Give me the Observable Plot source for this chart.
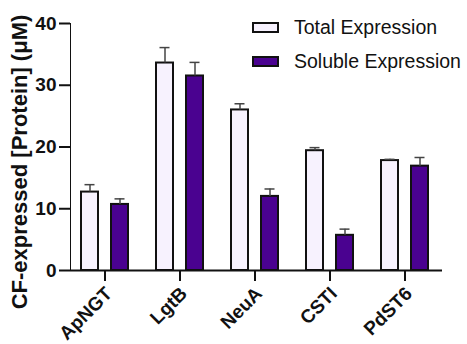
<!DOCTYPE html>
<html>
<head>
<meta charset="utf-8">
<script src="https://cdn.jsdelivr.net/npm/d3@7"></script>
<script src="https://cdn.jsdelivr.net/npm/@observablehq/plot@0.6"></script>
<style>
  body { margin: 0; background: #fff; }
  #wrap { position: relative; width: 467px; height: 344px; font-family: "Liberation Sans", Arial, sans-serif; }
  .lg { position: absolute; display: flex; align-items: center; font-size: 19.5px; color: #111; }
  .sw { width: 27px; height: 11px; border: 2px solid #111; box-sizing: border-box; margin-right: 15px; }
</style>
</head>
<body>
<div id="wrap"></div>
<script>
const categories = ["ApNGT", "LgtB", "NeuA", "CSTI", "PdST6"];
const totalMean = [12.7, 33.6, 26.0, 19.4, 17.8];
const totalErr = [1.2, 2.5, 1.0, 0.5, 0.2];
const solubleMean = [10.7, 31.5, 12.0, 5.7, 16.9];
const solubleErr = [0.9, 2.2, 1.2, 1.0, 1.4];
const seriesNames = ["Total Expression", "Soluble Expression"];
const seriesColors = ["#F7F2FE", "#4A0290"];
const yTicks = [0, 10, 20, 30, 40];
const yLabel = "CF-expressed [Protein] (μM)";

const total = categories.map((c, i) => ({cat: c, value: totalMean[i], hi: totalMean[i] + totalErr[i]}));
const soluble = categories.map((c, i) => ({cat: c, value: solubleMean[i], hi: solubleMean[i] + solubleErr[i]}));

const ink = "#111";
const errInk = "#444";

const chart = Plot.plot({
  width: 467,
  height: 344,
  marginTop: 23,
  marginBottom: 74,
  marginLeft: 70,
  marginRight: 25,
  style: {fontFamily: "'Liberation Sans', Arial, sans-serif", fontSize: "19px", fontWeight: "bold", color: ink, background: "white"},
  x: {domain: categories, range: [67, 442], paddingInner: 0.347, paddingOuter: 0.1735, label: null},
  y: {domain: [0, 40], ticks: yTicks, tickSize: 11, tickPadding: 3, label: null, line: true},
  marks: [
    Plot.barY(total, {x: "cat", y: "value", fill: seriesColors[0], stroke: ink, strokeWidth: 2, insetLeft: 1, insetRight: 31}),
    Plot.barY(soluble, {x: "cat", y: "value", fill: seriesColors[1], stroke: ink, strokeWidth: 2, insetLeft: 31, insetRight: 1}),
    Plot.ruleX(total, {x: "cat", y1: "value", y2: "hi", dx: -15, stroke: errInk, strokeWidth: 1.5}),
    Plot.tickY(total, {x: "cat", y: "hi", dx: -15, insetLeft: 19.5, insetRight: 19.5, stroke: errInk, strokeWidth: 1.5}),
    Plot.ruleX(soluble, {x: "cat", y1: "value", y2: "hi", dx: 15, stroke: errInk, strokeWidth: 1.5}),
    Plot.tickY(soluble, {x: "cat", y: "hi", dx: 15, insetLeft: 19.5, insetRight: 19.5, stroke: errInk, strokeWidth: 1.5}),
    Plot.axisX({tickSize: 11, tickPadding: 0, tickRotate: -45, label: null, fontSize: 19, fontWeight: "bold"}),
    Plot.ruleY([0], {stroke: ink, strokeWidth: 2}),
    Plot.text([yLabel], {frameAnchor: "left", textAnchor: "middle", rotate: -90, dx: -51, dy: 15, fontSize: 22, fontWeight: "bold", fill: ink})
  ]
});

const wrap = document.getElementById("wrap");
wrap.appendChild(chart);
const svg = d3.select(chart);
svg.selectAll("g[aria-label='y-axis'] path, g[aria-label='y-axis tick'] path, g[aria-label='x-axis tick'] path").attr("stroke-width", 2);
svg.selectAll("g[aria-label='x-axis tick label'] text").each(function () {
  const t = d3.select(this);
  const tr = t.attr("transform") || "";
  t.attr("transform", "translate(4,9) " + tr);
});

seriesNames.forEach((name, i) => {
  const item = document.createElement("div");
  item.className = "lg";
  item.style.left = "252px";
  item.style.top = (16 + i * 34) + "px";
  item.style.height = "23px";
  const sw = document.createElement("div");
  sw.className = "sw";
  sw.style.background = seriesColors[i];
  const tx = document.createElement("span");
  tx.textContent = name;
  item.appendChild(sw);
  item.appendChild(tx);
  wrap.appendChild(item);
});
</script>
</body>
</html>
